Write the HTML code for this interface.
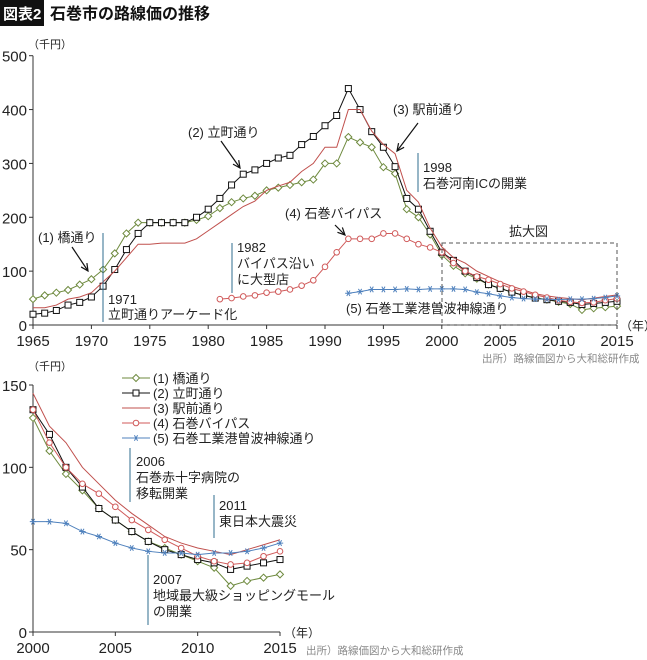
<!DOCTYPE html>
<html><head><meta charset="utf-8">
<style>
body{margin:0;background:#fff;width:647px;height:660px;overflow:hidden;font-family:"Liberation Sans","Noto Sans CJK JP",sans-serif;}
svg{position:absolute;left:0;top:0}
text{font-family:"Liberation Sans","Noto Sans CJK JP",sans-serif;}
</style></head><body>
<svg id="c" width="647" height="660">
<rect x="0" y="0" width="44" height="26" fill="#111"/>
<text x="3" y="19" font-size="15" font-weight="bold" fill="#fff">図表2</text>
<text x="50" y="19" font-size="16" font-weight="bold" fill="#111">石巻市の路線価の推移</text>
<g id="topChart"></g>
<g id="botChart"></g>
</svg>
<script>
const s1=[48,55,60,65,75,85,103,133,170,190,190,190,190,190,195,202,217,228,235,240,250,255,260,265,270,300,300,349,339,330,293,281,215,200,168,130,110,96,86,75,68,61,55,51,47,43,39,28,31,33,35];
const s2=[20,22,27,37,42,52,72,103,140,170,190,190,190,190,200,215,235,260,280,288,300,310,315,335,350,370,389,439,400,359,330,294,235,215,174,135,120,100,88,75,68,61,55,50,47,44,42,38,40,42,44];
const s3=[32,32,37,48,52,60,80,100,125,150,150,152,152,152,160,175,190,205,220,230,250,258,265,285,300,330,330,400,400,360,335,318,250,228,180,145,125,115,100,90,80,72,65,58,54,51,49,47,50,53,56];
const s4Start=1981;
const s4=[48,50,53,55,60,62,66,73,83,108,135,160,160,160,170,170,160,150,144,135,115,100,90,84,76,68,62,56,51,46,43,41,42,46,49];
const s5Start=1992;
const s5=[59,62,66,66,66,67,66,67,67,67,66,61,58,54,51,49,48,48,47,48,48,49,51,54,57];
const topXTicks=[1965,1970,1975,1980,1985,1990,1995,2000,2005,2010,2015];
const topYTicks=[0,100,200,300,400,500];
const botXTicks=[2000,2005,2010,2015];
const botYTicks=[0,50,100,150];
const legendLabels=["(1) 橋通り","(2) 立町通り","(3) 駅前通り","(4) 石巻バイパス","(5) 石巻工業港曽波神線通り"];

const NS="http://www.w3.org/2000/svg";
function mk(p,tag,attrs,txt){const e=document.createElementNS(NS,tag);for(const k in attrs)e.setAttribute(k,attrs[k]);if(txt!==undefined)e.textContent=txt;p.appendChild(e);return e;}
const colors=["#6e8a3e","#111","#c0504d","#d05a5a","#4f81bd"];
function star(g,px,py){const r=3.2;return mk(g,'path',{d:`M${px-r},${py}H${px+r}M${px-r*0.5},${py-r*0.87}L${px+r*0.5},${py+r*0.87}M${px+r*0.5},${py-r*0.87}L${px-r*0.5},${py+r*0.87}`,stroke:colors[4],'stroke-width':1,fill:'none'});}

function drawChart(g,x0,x1,y0px,y1px,vmax,yrFrom,yrTo,xt,yt){
  const X=y=>x0+(y-yrFrom)/(yrTo-yrFrom)*(x1-x0);
  const Y=v=>y0px-(v/vmax)*(y0px-y1px);
  const ax=mk(g,'path',{d:`M${x0},${Y(vmax)}V${y0px}H${x1}`,stroke:'#333',fill:'none','stroke-width':1});
  
  
  yt.forEach(v=>{const t=mk(g,'text',{x:x0-6,y:Y(v)+6,'font-size':15,'text-anchor':'end',fill:'#222'},v);
    
    
    mk(g,'line',{x1:x0-4,x2:x0,y1:Y(v),y2:Y(v),stroke:'#333'});});
  xt.forEach(v=>{const t=mk(g,'text',{x:X(v),y:y0px+21,'font-size':15,'text-anchor':'middle',fill:'#222'},v);
    
    
    mk(g,'line',{x1:X(v),x2:X(v),y1:y0px,y2:y0px+4,stroke:'#333'});});
  const series=[[1965,s1],[1965,s2],[1965,s3],[s4Start,s4],[s5Start,s5]];
  series.forEach(([st,arr],i)=>{
    const pts=[];arr.forEach((v,j)=>{const yr=st+j;if(yr>=yrFrom&&yr<=yrTo)pts.push([X(yr),Y(v)]);});
    const pl=mk(g,'polyline',{points:pts.map(p=>p.join(',')).join(' '),fill:'none',stroke:colors[i],'stroke-width':1});
    
    
    pts.forEach(([px,py])=>{let m;
      if(i===0){m=mk(g,'path',{d:`M${px},${py-3.5}L${px+3.5},${py}L${px},${py+3.5}L${px-3.5},${py}Z`,fill:'#fff',stroke:colors[0]});}
      else if(i===1){m=mk(g,'rect',{x:px-3,y:py-3,width:6,height:6,fill:'#fff',stroke:'#111'});}
      else if(i===3){m=mk(g,'circle',{cx:px,cy:py,r:2.8,fill:'#fff',stroke:colors[3]});}
      else if(i===4){m=star(g,px,py);}
      if(m){
        }
    });
  });
}
const gTop=document.getElementById('topChart'),gBot=document.getElementById('botChart');
drawChart(gTop,33,617,325,55.7,500,1965,2015,topXTicks,topYTicks);
drawChart(gBot,33,280,632,385,150,2000,2015,botXTicks,botYTicks);

function txt(g,x,y,s,t,name,fill){const e=mk(g,'text',{x:x,y:y,'font-size':s,fill:fill||'#222'},t);
  
  return e;}
function vline(g,x,ya,yb){const l=mk(g,'line',{x1:x,x2:x,y1:ya,y2:yb,stroke:'#2f6c8f','stroke-width':1});
  
  }
function arrow(g,xa,ya,xb,yb){const l=mk(g,'line',{x1:xa,y1:ya,x2:xb,y2:yb,stroke:'#111','stroke-width':1.2});
  
  
  const a=Math.atan2(yb-ya,xb-xa),h=8;
  mk(g,'path',{d:`M${xb-h*Math.cos(a-0.45)},${yb-h*Math.sin(a-0.45)}L${xb},${yb}L${xb-h*Math.cos(a+0.45)},${yb-h*Math.sin(a+0.45)}`,fill:'none',stroke:'#111','stroke-width':1.2});}

txt(gTop,28,48,11,'（千円）','y-axis-unit');
txt(gTop,620,330,12,'（年）','x-axis-unit');
txt(gTop,482,362,10.5,'出所）路線価図から大和総研作成','source-note','#888');
txt(gTop,38,242,13,'(1) 橋通り','label-series-1');arrow(gTop,72,247,88,271);
vline(gTop,103,233,322);
txt(gTop,108,304,13,'1971','annotation-1971');txt(gTop,108,319,13,'立町通りアーケード化','annotation-1971-text');
txt(gTop,188,137,13,'(2) 立町通り','label-series-2');arrow(gTop,221,141,240,168);
vline(gTop,232,243,293);
txt(gTop,237,252,13,'1982','annotation-1982');txt(gTop,237,268,13,'バイパス沿い','annotation-1982-text');txt(gTop,237,284,13,'に大型店','annotation-1982-text2');
txt(gTop,393,114,13,'(3) 駅前通り','label-series-3');arrow(gTop,418,123,397,151);
vline(gTop,418,153,192);
txt(gTop,423,172,13,'1998','annotation-1998');txt(gTop,423,188,13,'石巻河南ICの開業','annotation-1998-text');
txt(gTop,285,218,13,'(4) 石巻バイパス','label-series-4');arrow(gTop,335,225,345,235);
txt(gTop,346,313,13,'(5) 石巻工業港曽波神線通り','label-series-5');
const box=mk(gTop,'rect',{x:442,y:243,width:175,height:82,fill:'none',stroke:'#555','stroke-dasharray':'4,3'});


txt(gTop,509,236,13,'拡大図','zoom-region-label');

txt(gBot,28,370,11,'（千円）','y-axis-unit');
txt(gBot,284,637,12,'（年）','x-axis-unit');
txt(gBot,306,654,10.5,'出所）路線価図から大和総研作成','source-note','#888');
legendLabels.forEach((l,i)=>{const y=383+i*15;
  const ln=mk(gBot,'line',{x1:122,x2:150,y1:y-5,y2:y-5,stroke:colors[i]});
  
  
  const px=136,py=y-5;
  if(i===0)mk(gBot,'path',{d:`M${px},${py-3.5}L${px+3.5},${py}L${px},${py+3.5}L${px-3.5},${py}Z`,fill:'#fff',stroke:colors[0]});
  if(i===1)mk(gBot,'rect',{x:px-3,y:py-3,width:6,height:6,fill:'#fff',stroke:'#111'});
  if(i===3)mk(gBot,'circle',{cx:px,cy:py,r:2.8,fill:'#fff',stroke:colors[3]});
  if(i===4)star(gBot,px,py);
  const t=mk(gBot,'text',{x:153,y:y,'font-size':13,fill:'#222'},l);
  
  });
vline(gBot,130,448,502);
txt(gBot,136,466,13,'2006','annotation-2006');txt(gBot,136,482,13,'石巻赤十字病院の','annotation-2006-text');txt(gBot,136,498,13,'移転開業','annotation-2006-text2');
vline(gBot,214,495,538);
txt(gBot,219,510,13,'2011','annotation-2011');txt(gBot,219,526,13,'東日本大震災','annotation-2011-text');
vline(gBot,148,555,625);
txt(gBot,153,584,13,'2007','annotation-2007');txt(gBot,153,600,13,'地域最大級ショッピングモール','annotation-2007-text');txt(gBot,153,616,13,'の開業','annotation-2007-text2');
</script>
</body></html>
